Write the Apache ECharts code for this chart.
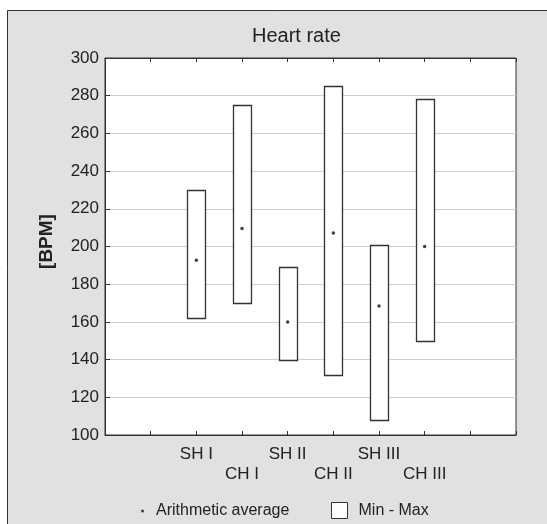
<!DOCTYPE html>
<html>
<head>
<meta charset="utf-8">
<script src="https://cdn.jsdelivr.net/npm/echarts@6/dist/echarts.min.js"></script>
<style>
html,body{margin:0;padding:0;background:#fff;}
#chart{width:547px;height:524px;}
</style>
</head>
<body>
<div id="chart"></div>
<script>
var categories = ['SH I', 'CH I', 'SH II', 'CH II', 'SH III', 'CH III'];
var minValues  = [162, 170, 140, 132, 108, 150];
var maxValues  = [230, 275, 189, 285, 201, 278];
var meanValues = [192.7, 209.5, 160, 207.2, 168.5, 200];
var yTicks = { min: 100, max: 300, step: 20 };
var FIRST_POS = 2; // categories placed at positions 2..7 of a 0..9 axis

var boxData = categories.map(function (c, i) { return [FIRST_POS + i, minValues[i], maxValues[i]]; });
var meanData = categories.map(function (c, i) { return [FIRST_POS + i, meanValues[i]]; });

var font = '"Liberation Sans", Arial, sans-serif';
var txt = '#222';
var chart = echarts.init(document.getElementById('chart'));
chart.setOption({
  animation: false,
  backgroundColor: '#fff',
  graphic: [{
    type: 'rect', z: -10, silent: true,
    shape: { x: 7.5, y: 10.5, width: 560, height: 540 },
    style: { fill: '#e1e1e1', stroke: '#333', lineWidth: 1 }
  }],
  title: {
    text: 'Heart rate', left: 252, top: 26, padding: 0,
    textStyle: { fontFamily: font, fontSize: 20, fontWeight: 'normal', color: txt }
  },
  legend: [{
    data: [{ name: 'Arithmetic average', icon: 'circle' }],
    left: 141, top: 503, itemWidth: 3, itemHeight: 3, padding: 0,
    itemStyle: { color: '#111' },
    textStyle: { fontFamily: font, fontSize: 16, color: txt, padding: [0, 0, 0, 7] }
  }, {
    data: [{ name: 'Min - Max', icon: 'rect' }],
    left: 331, top: 502, itemWidth: 16, itemHeight: 16, padding: 0,
    itemStyle: { color: '#fff', borderColor: '#333', borderWidth: 1 },
    textStyle: { fontFamily: font, fontSize: 16, color: txt, padding: [0, 0, 0, 6] }
  }],
  grid: {
    left: 105, right: 31, top: 58, bottom: 89,
    show: true, backgroundColor: '#fff', borderColor: '#333', borderWidth: 1
  },
  xAxis: [{
    type: 'value', min: 0, max: 9, interval: 1, position: 'bottom',
    axisLine: { show: true, lineStyle: { color: '#333' } },
    axisTick: { show: true, inside: true, length: 4, lineStyle: { color: '#333' } },
    splitLine: { show: false },
    axisLabel: {
      showMinLabel: true, showMaxLabel: true, margin: 9,
      fontFamily: font, fontSize: 17, color: txt, lineHeight: 20,
      formatter: function (v) {
        var i = Math.round(v) - FIRST_POS;
        if (i < 0 || i >= categories.length) return '';
        return (i % 2 === 0) ? categories[i] : '\n' + categories[i];
      }
    }
  }, {
    type: 'value', min: 0, max: 9, interval: 1, position: 'top',
    axisLine: { show: true, lineStyle: { color: '#333' } },
    axisTick: { show: true, inside: true, length: 4, lineStyle: { color: '#333' } },
    splitLine: { show: false }, axisLabel: { show: false }
  }],
  yAxis: {
    type: 'value', min: yTicks.min, max: yTicks.max, interval: yTicks.step,
    name: '[BPM]', nameLocation: 'middle', nameRotate: 90, nameGap: 49,
    nameTextStyle: { fontFamily: font, fontSize: 19, fontWeight: 'bold', color: txt, padding: [0, 0, 0, 10] },
    axisLine: { show: true, lineStyle: { color: '#333' } },
    axisTick: { show: true, inside: true, length: 5, lineStyle: { color: '#333' } },
    splitLine: { show: true, lineStyle: { color: '#cfcfcf', width: 1 } },
    axisLabel: { margin: 6, fontFamily: font, fontSize: 17, color: txt }
  },
  series: [{
    name: 'Min - Max', type: 'custom', xAxisIndex: 0,
    data: boxData,
    encode: { x: 0, y: [1, 2] },
    itemStyle: { color: '#fff', borderColor: '#333' },
    renderItem: function (params, api) {
      var lo = api.coord([api.value(0), api.value(1)]);
      var hi = api.coord([api.value(0), api.value(2)]);
      var w = 18;
      return {
        type: 'rect',
        shape: { x: Math.round(lo[0] - w / 2) + 0.5, y: Math.round(hi[1]) + 0.5, width: w, height: Math.round(lo[1]) - Math.round(hi[1]) },
        style: { fill: '#fff', stroke: '#333', lineWidth: 1.3 }
      };
    },
    z: 2
  }, {
    name: 'Arithmetic average', type: 'scatter', xAxisIndex: 0,
    data: meanData, symbol: 'circle', symbolSize: 3.5,
    itemStyle: { color: '#111' }, z: 3
  }]
});
</script>
</body>
</html>
